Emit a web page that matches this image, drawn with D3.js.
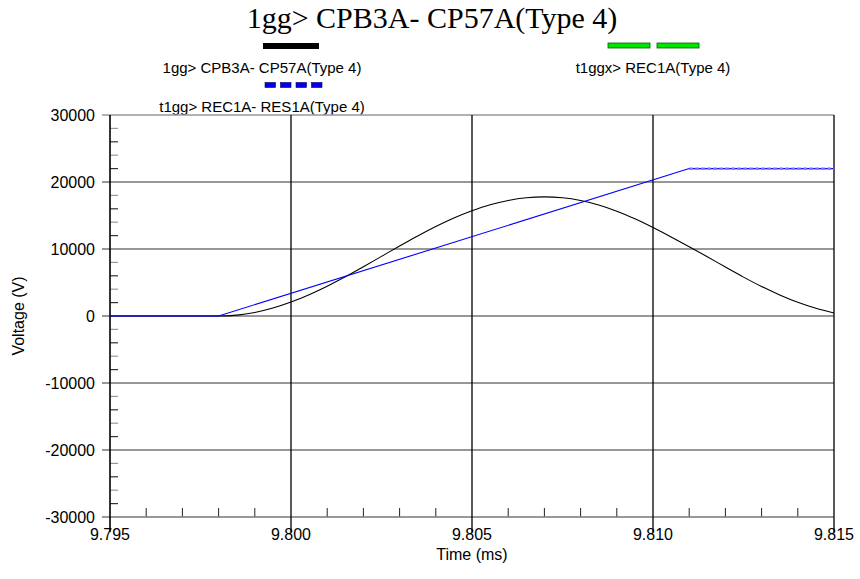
<!DOCTYPE html>
<html>
<head>
<meta charset="utf-8">
<script src="https://cdn.jsdelivr.net/npm/d3@7"></script>
<style>
  body { margin: 0; background: #fff; }
  text { font-family: "Liberation Sans", Arial, sans-serif; }
</style>
</head>
<body>
<svg id="chart" width="860" height="579"></svg>
<script>
const titleText = "1gg> CPB3A- CP57A(Type 4)";
const timeTicks = [9.795, 9.800, 9.805, 9.810, 9.815];
const voltTicks = [30000, 20000, 10000, 0, -10000, -20000, -30000];

// black: 1gg> CPB3A- CP57A
const blackT = [9.795, 9.7975, 9.798, 9.7985, 9.799, 9.7995, 9.800, 9.8005, 9.801, 9.8015, 9.802, 9.8025,
  9.803, 9.8035, 9.804, 9.8045, 9.805, 9.8055, 9.806, 9.8065, 9.807, 9.8075, 9.808, 9.8085, 9.809,
  9.8095, 9.810, 9.8105, 9.811, 9.8115, 9.812, 9.8125, 9.813, 9.8135, 9.814, 9.8145, 9.815];
const blackV = [0, 0, 0, 130, 530, 1190, 2080, 3180, 4450, 5850, 7350, 8900,
  10450, 11950, 13350, 14620, 15700, 16600, 17250, 17650, 17780, 17650, 17250, 16580, 15650,
  14500, 13200, 11800, 10350, 8850, 7300, 5800, 4400, 3150, 2050, 1150, 450];

// blue: t1gg> REC1A- RES1A
const blueT = [9.795, 9.798, 9.811, 9.815];
const blueV = [0, 0, 22000, 22000];

const legendItems = [
  { label: "1gg> CPB3A- CP57A(Type 4)", kind: "solid", color: "#000", cx: 262, y: 46 },
  { label: "t1ggx> REC1A(Type 4)", kind: "green", color: "#00e600", cx: 653, y: 46 },
  { label: "t1gg> REC1A- RES1A(Type 4)", kind: "blue", color: "#0000ee", cx: 262, y: 85 }
];

const svg = d3.select("#chart");
const plotL = 110, plotR = 834, plotT = 115, plotB = 517;

const x = d3.scaleLinear().domain([9.795, 9.815]).range([plotL, plotR]);
const y = d3.scaleLinear().domain([-30000, 30000]).range([plotB, plotT]);

// title
svg.append("text")
  .attr("x", 432).attr("y", 28)
  .attr("text-anchor", "middle")
  .style("font-family", "'Liberation Serif', serif")
  .style("font-size", "30px")
  .text(titleText);

// legend
legendItems.forEach(d => {
  const g = svg.append("g");
  if (d.kind === "solid") {
    g.append("rect").attr("x", 263).attr("y", d.y - 3).attr("width", 56).attr("height", 6).attr("fill", "#000");
  } else if (d.kind === "green") {
    [0, 49].forEach(off => {
      g.append("rect").attr("x", 608 + off).attr("y", d.y - 3).attr("width", 42).attr("height", 5)
        .attr("fill", d.color).attr("stroke", "#006000").attr("stroke-width", 0.8);
    });
  } else {
    [0, 1, 2, 3].forEach(i => {
      g.append("rect").attr("x", 265 + i * 15.5).attr("y", d.y - 2.5).attr("width", 10.5).attr("height", 5)
        .attr("fill", d.color).attr("stroke", "#000060").attr("stroke-width", 0.6);
    });
  }
  g.append("text")
    .attr("x", d.cx).attr("y", d.y + 27)
    .attr("text-anchor", "middle")
    .style("font-size", "15px")
    .text(d.label);
});

// minor ticks
const minorY = d3.range(-28000, 30000, 2000).filter(v => v % 10000 !== 0);
svg.append("g").selectAll("line").data(minorY).join("line")
  .attr("x1", plotL).attr("x2", plotL + 8)
  .attr("y1", d => y(d)).attr("y2", d => y(d))
  .attr("stroke", (d, i) => i % 2 ? "#999" : "#333").attr("stroke-width", 1.2);

const minorX = d3.range(0, 21).map(i => 9.795 + i * 0.001).filter((v, i) => i % 5 !== 0);
svg.append("g").selectAll("line").data(minorX).join("line")
  .attr("x1", d => x(d)).attr("x2", d => x(d))
  .attr("y1", plotB).attr("y2", plotB - 9)
  .attr("stroke", "#222").attr("stroke-width", 1);

// horizontal gridlines
svg.append("g").selectAll("line").data(voltTicks).join("line")
  .attr("x1", plotL - 8).attr("x2", plotR)
  .attr("y1", d => y(d)).attr("y2", d => y(d))
  .attr("stroke", d => (d === 30000 ? "#999" : d === -30000 ? "#777" : "#333"))
  .attr("stroke-width", d => (Math.abs(d) === 30000 ? 1.6 : 1.2));

// vertical gridlines
svg.append("g").selectAll("line").data(timeTicks).join("line")
  .attr("x1", d => x(d)).attr("x2", d => x(d))
  .attr("y1", plotT).attr("y2", plotB + 15)
  .attr("stroke", "#000").attr("stroke-width", d => (d === 9.795 ? 1.6 : 1.3));

// tick labels
svg.append("g").selectAll("text").data(voltTicks).join("text")
  .attr("x", 95).attr("y", d => y(d) + 6)
  .attr("text-anchor", "end")
  .style("font-size", "16px")
  .text(d => d);

svg.append("g").selectAll("text").data(timeTicks).join("text")
  .attr("x", d => x(d)).attr("y", plotB + 23)
  .attr("text-anchor", "middle")
  .style("font-size", "16px")
  .text(d => d3.format(".3f")(d));

svg.append("text")
  .attr("x", 472).attr("y", 560)
  .attr("text-anchor", "middle")
  .style("font-size", "16px")
  .text("Time (ms)");

svg.append("text")
  .attr("transform", `translate(24,${y(0)}) rotate(-90)`)
  .attr("text-anchor", "middle")
  .style("font-size", "16px")
  .text("Voltage (V)");

// series
const blackLine = d3.line().x(d => x(d[0])).y(d => y(d[1])).curve(d3.curveMonotoneX);
const straight = d3.line().x(d => x(d[0])).y(d => y(d[1]));

svg.append("path")
  .attr("fill", "none").attr("stroke", "#000").attr("stroke-width", 1.1)
  .attr("d", blackLine(d3.zip(blackT, blackV)));

const bluePts = d3.zip(blueT, blueV);
svg.append("path")
  .attr("fill", "none").attr("stroke", "#0000ff").attr("stroke-width", 1.1)
  .attr("d", straight(bluePts));

// textured flat part (overlapping markers)
svg.append("path")
  .attr("fill", "none").attr("stroke", "#7070ff").attr("stroke-width", 2.2)
  .attr("stroke-dasharray", "4 2")
  .attr("d", straight(bluePts.slice(2)));
</script>
</body>
</html>
